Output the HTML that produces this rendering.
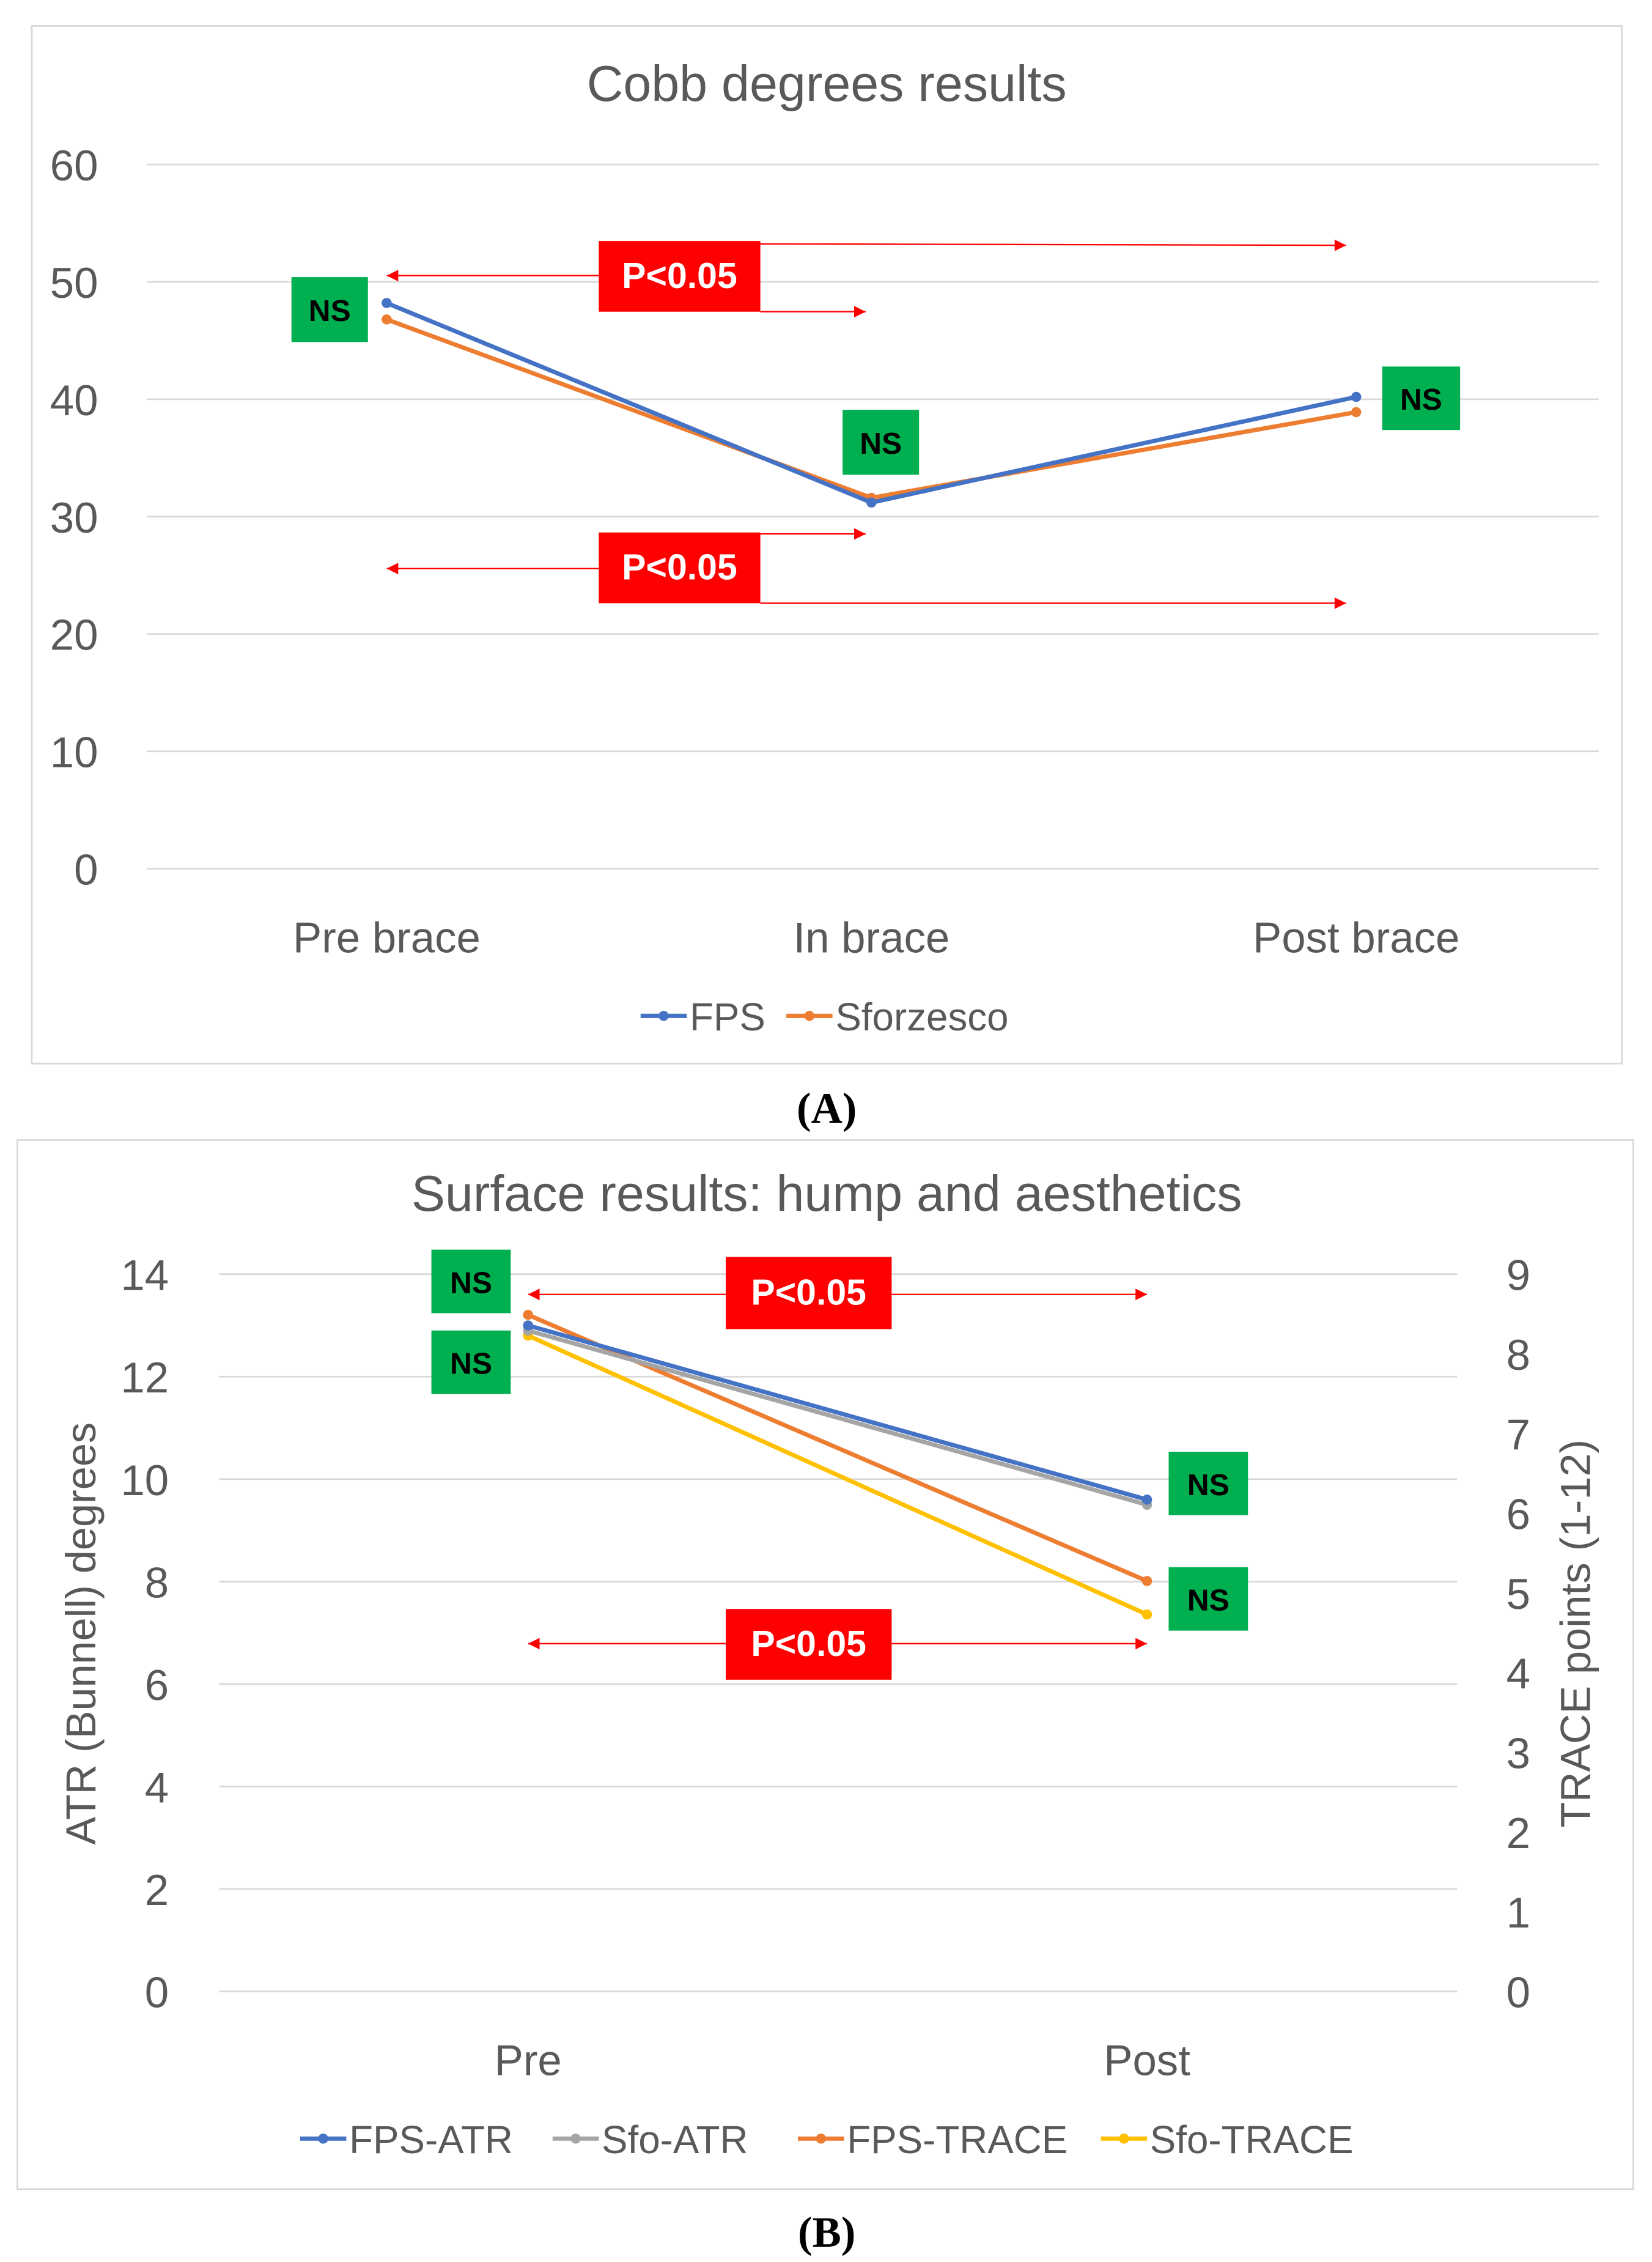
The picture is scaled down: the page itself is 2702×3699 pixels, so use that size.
<!DOCTYPE html>
<html><head><meta charset="utf-8"><style>
html,body{margin:0;padding:0;background:#fff}
svg{display:block}
text{font-family:"Liberation Sans",sans-serif;fill:#595959}
</style></head><body>
<svg id="s" width="2702" height="3699" viewBox="0 0 1145 1567.5">
<rect x="22" y="18" width="1102" height="719" fill="#fff" stroke="#d9d9d9" stroke-width="1.2"/>
<text x="573" y="70" font-size="35" text-anchor="middle">Cobb degrees results</text>
<g id="ga"></g>
<text x="573" y="778" font-size="30" text-anchor="middle" font-weight="bold" style="font-family:'Liberation Serif',serif;fill:#000">(A)</text>
<rect x="12" y="790" width="1120" height="727" fill="#fff" stroke="#d9d9d9" stroke-width="1.2"/>
<text x="573" y="839" font-size="35" text-anchor="middle">Surface results: hump and aesthetics</text>
<text transform="translate(66,1132) rotate(-90)" font-size="29" text-anchor="middle">ATR (Bunnell) degrees</text>
<text transform="translate(1102,1132) rotate(-90)" font-size="29" text-anchor="middle">TRACE points (1-12)</text>
<g id="gb"></g>
<text x="573" y="1557" font-size="30" text-anchor="middle" font-weight="bold" style="font-family:'Liberation Serif',serif;fill:#000">(B)</text>
</svg>
<script>
// Chart A data
const catsA = ["Pre brace","In brace","Post brace"];
const fpsA = [48.2,31.2,40.2];
const sfoA = [46.8,31.6,38.9];
const ticksA = [0,10,20,30,40,50,60];
// Chart B data
const catsB = ["Pre","Post"];
const fpsAtr = [13.0,9.6];
const sfoAtr = [12.9,9.5];
const fpsTrace = [8.49,5.15];
const sfoTrace = [8.23,4.73];
const ticksL = [0,2,4,6,8,10,12,14];
const ticksR = [0,1,2,3,4,5,6,7,8,9];

const NS="http://www.w3.org/2000/svg";
function mk(p,tag,at,txt){const e=document.createElementNS(NS,tag);for(const k in at)e.setAttribute(k,at[k]);if(txt!==undefined)e.textContent=txt;p.appendChild(e);return e;}

// ---- Chart A
const ga=document.getElementById('ga');
const yA=v=>602-(v/60)*(602-114);
const xA=i=>268+i*336;
ticksA.forEach(t=>{
  const l=mk(ga,'line',{x1:102,x2:1108,y1:yA(t),y2:yA(t),stroke:'#d9d9d9','stroke-width':1.2});
  
  
  const tx=mk(ga,'text',{x:68,y:yA(t)+11,'font-size':30,'text-anchor':'end'},String(t));
  
  
});
catsA.forEach((c,i)=>{
  const tx=mk(ga,'text',{x:xA(i),y:660,'font-size':30,'text-anchor':'middle'},c);
  
  
});
function series(g,vals,xf,yf,col,name){
  const pl=mk(g,'polyline',{points:vals.map((v,i)=>xf(i)+','+yf(v)).join(' '),fill:'none',stroke:col,'stroke-width':3});
  
  
  vals.forEach((v,i)=>{
    const c=mk(g,'circle',{cx:xf(i),cy:yf(v),r:3.5,fill:col});
    
    
  });
}
series(ga,sfoA,xA,yA,'#ed7d31','sforzesco');
series(ga,fpsA,xA,yA,'#4472c4','fps');
function box(g,x,y,w,h,col,txt,name){
  const r=mk(g,'rect',{x:x,y:y,width:w,height:h,fill:col});
  
  
  const t=mk(g,'text',{x:x+w/2,y:y+h/2+8,'font-size':txt==='NS'?21:25,'text-anchor':'middle','font-weight':'bold',style:'fill:'+(txt==='NS'?'#000':'#fff')},txt);
  
  
}
function arrow(g,x1,y1,x2,y2,h1,h2){
  const l=mk(g,'line',{x1,y1,x2,y2,stroke:'#ff0000','stroke-width':1});
  
  
  [[h1,x1,y1,-1],[h2,x2,y2,1]].forEach(([h,x,y,d])=>{
    if(!h)return;
    const p=mk(g,'polygon',{points:`${x},${y} ${x-d*8},${y-4} ${x-d*8},${y+4}`,fill:'#ff0000'});
    
    
  });
}
arrow(ga,527,169,933,170,false,true);
arrow(ga,268,191,415,191,true,false);
arrow(ga,527,216,600,216,false,true);
arrow(ga,527,370,600,370,false,true);
arrow(ga,268,394,415,394,true,false);
arrow(ga,527,418,933,418,false,true);
box(ga,415,167,112,49,'#ff0000','P<0.05','p-value-box-upper');
box(ga,415,369,112,49,'#ff0000','P<0.05','p-value-box-lower');
box(ga,202,192,53,45,'#00b050','NS','ns-box-pre');
box(ga,584,284,53,45,'#00b050','NS','ns-box-in');
box(ga,958,254,54,44,'#00b050','NS','ns-box-post');
function legend(g,items,y){
  items.forEach(([x,col,label,name])=>{
    const l=mk(g,'line',{x1:x,x2:x+32,y1:y,y2:y,stroke:col,'stroke-width':3});
    
    
    const c=mk(g,'circle',{cx:x+16,cy:y,r:3.5,fill:col});
    
    
    const t=mk(g,'text',{x:x+34,y:y+10,'font-size':27},label);
    
    
  });
}
legend(ga,[[444,'#4472c4','FPS','fps'],[545,'#ed7d31','Sforzesco','sforzesco']],704);

// ---- Chart B
const gb=document.getElementById('gb');
const yL=v=>1380-(v/14)*(1380-883);
const yR=v=>1380-(v/9)*(1380-883);
const xB=i=>366+i*429;
ticksL.forEach(t=>{
  const l=mk(gb,'line',{x1:152,x2:1010,y1:yL(t),y2:yL(t),stroke:'#d9d9d9','stroke-width':1.2});
  
  
  const tx=mk(gb,'text',{x:117,y:yL(t)+11,'font-size':30,'text-anchor':'end'},String(t));
  
  
});
ticksR.forEach(t=>{
  const tx=mk(gb,'text',{x:1044,y:yR(t)+11,'font-size':30},String(t));
  
  
});
catsB.forEach((c,i)=>{
  const tx=mk(gb,'text',{x:xB(i),y:1438,'font-size':30,'text-anchor':'middle'},c);
  
  
});
series(gb,sfoTrace,xB,yR,'#ffc000','sfo-trace');
series(gb,fpsTrace,xB,yR,'#ed7d31','fps-trace');
series(gb,sfoAtr,xB,yL,'#a5a5a5','sfo-atr');
series(gb,fpsAtr,xB,yL,'#4472c4','fps-atr');
arrow(gb,366,897,795,897,true,true);
arrow(gb,366,1139,795,1139,true,true);
box(gb,503,871,115,50,'#ff0000','P<0.05','p-value-box-atr');
box(gb,503,1115,115,49,'#ff0000','P<0.05','p-value-box-trace');
box(gb,299,866,55,44,'#00b050','NS','ns-box-pre-atr');
box(gb,299,922,55,44,'#00b050','NS','ns-box-pre-trace');
box(gb,810,1006,55,44,'#00b050','NS','ns-box-post-atr');
box(gb,810,1086,55,44,'#00b050','NS','ns-box-post-trace');
legend(gb,[[208,'#4472c4','FPS-ATR','fps-atr'],[383,'#a5a5a5','Sfo-ATR','sfo-atr'],[553,'#ed7d31','FPS-TRACE','fps-trace'],[763,'#ffc000','Sfo-TRACE','sfo-trace']],1482);
</script>
</body></html>
